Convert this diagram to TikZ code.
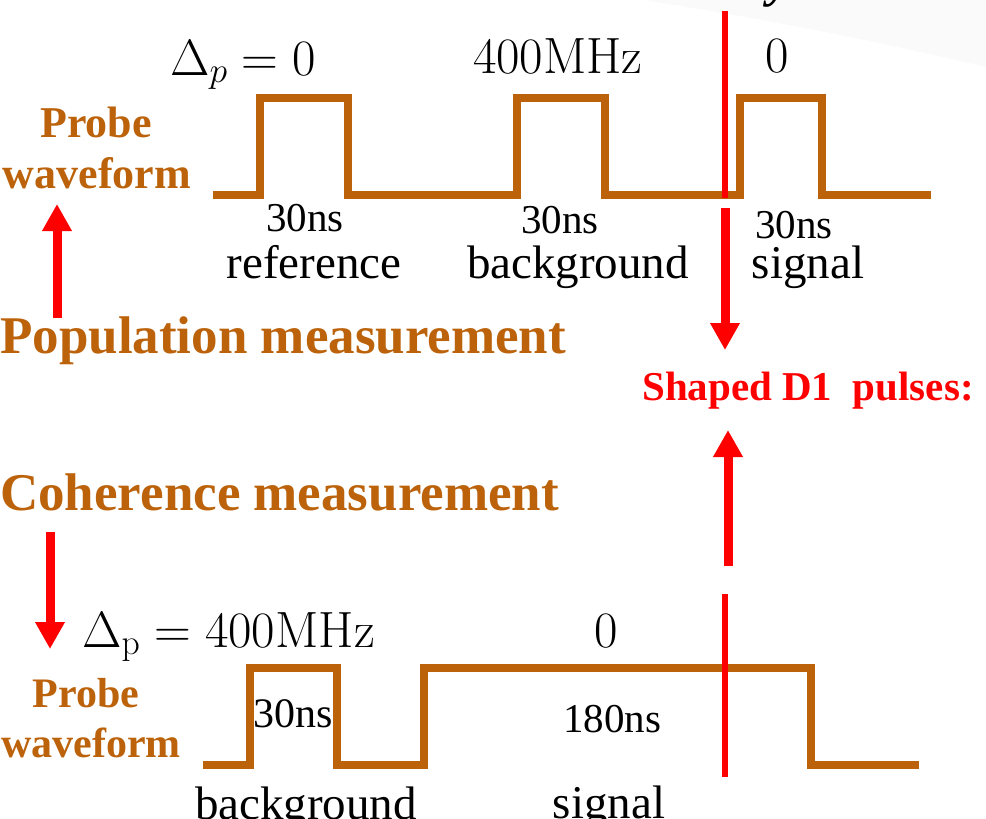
\RequirePackage{fix-cm}
\documentclass[tikz,border=0pt]{standalone}
\usepackage[no-math]{fontspec}
\setmainfont{Liberation Serif}
\usetikzlibrary{arrows.meta}
\definecolor{wave}{RGB}{187,98,10}
\definecolor{redc}{RGB}{255,0,0}
\definecolor{shadec}{RGB}{250,250,250}
\begin{document}
\begin{tikzpicture}[x=1pt,y=-1pt,
  wavepath/.style={draw=wave,line width=8.5pt,line join=miter,line cap=butt},
  redline/.style={draw=redc,line width=6pt},
  redarrow/.style={draw=redc,line width=9pt,-{Triangle[width=28pt,length=27pt]}},
  lbl/.style={inner sep=0pt,anchor=base,font=\fontsize{47}{50}\selectfont},
  dur/.style={inner sep=0pt,anchor=base,font=\fontsize{41}{44}\selectfont},
  detu/.style={inner sep=0pt,font=\fontsize{51}{53}\selectfont},
  orangetxt/.style={inner sep=0pt,anchor=base,text=wave,font=\bfseries\fontsize{44}{46}\selectfont},
  bigorange/.style={inner sep=0pt,anchor=base west,text=wave,font=\bfseries\fontsize{53}{56}\selectfont},
  redtxt/.style={inner sep=0pt,anchor=base west,text=redc,font=\bfseries\fontsize{41}{44}\selectfont}
]
\useasboundingbox (0,0) rectangle (986,819);
% faint background shade
\fill[shadec] (643,0) -- (986,0) -- (986,67) .. controls (850,35) and (740,15) .. (643,0) -- cycle;
% cut-off heading letter
\node[inner sep=0pt,anchor=base west,font=\bfseries\itshape\fontsize{50}{52}\selectfont] (cuty) at (768,-4) {y};

% ---- top (population) waveform ----
\draw[wavepath] (213,195) -- (260,195) -- (260,98) -- (348,98) -- (348,195)
  -- (517,195) -- (517,98) -- (605,98) -- (605,195)
  -- (740,195) -- (740,98) -- (822,98) -- (822,195) -- (931,195);
\coordinate (topLineTop) at (725,11);
\coordinate (topLineBot) at (725,198);
\draw[redline] (topLineTop) -- (topLineBot);

\node[detu,anchor=base west] (dp1) at (170,75) {$\Delta_p = 0$};
\node[detu,anchor=base] (f1) at (558,73) {$400\mathrm{MHz}$};
\node[detu,anchor=base] (f2) at (777,72) {$0$};

\node[dur] (d1) at (305,231) {30ns};
\node[dur] (d2) at (560,233) {30ns};
\node[dur] (d3) at (794,238) {30ns};
\node[lbl] (l1) at (314,278) {reference};
\node[lbl] (l2) at (578,278) {background};
\node[lbl] (l3) at (808,278) {signal};

\node[orangetxt] (pw1a) at (96,137) {Probe};
\node[orangetxt] (pw1b) at (97,188) {waveform};
\node[bigorange] (pop) at (0,353) {Population measurement};
\node[bigorange] (coh) at (0,510) {Coherence measurement};

\node[redtxt] (shaped) at (642,400) {Shaped D1\ \ pulses:};

% arrows
\coordinate (popA) at (57,318);
\coordinate (popB) at (57,204);
\draw[redarrow] (popA) -- (popB);
\coordinate (sigA) at (725,208);
\coordinate (sigB) at (725,350);
\draw[redarrow] (sigA) -- (sigB);
\coordinate (cohSigA) at (728,566);
\coordinate (cohSigB) at (728,430);
\draw[redarrow] (cohSigA) -- (cohSigB);
\coordinate (cohA) at (50,532);
\coordinate (cohB) at (50,649);
\draw[redarrow] (cohA) -- (cohB);

% ---- bottom (coherence) waveform ----
\draw[wavepath] (203,765) -- (250,765) -- (250,668) -- (337,668) -- (337,765)
  -- (424,765) -- (424,668) -- (811,668) -- (811,765) -- (919,765);
\coordinate (botLineTop) at (724.5,594);
\coordinate (botLineBot) at (724.5,777);
\draw[redline] (botLineTop) -- (botLineBot);

\node[detu,anchor=base west] (dp2) at (82,647) {$\Delta_{\mathrm{p}} = 400\mathrm{MHz}$};
\node[detu,anchor=base] (f3) at (606,647) {$0$};

\node[orangetxt,font=\bfseries\fontsize{42}{44}\selectfont] (pw2a) at (86,707) {Probe};
\node[orangetxt,font=\bfseries\fontsize{42}{44}\selectfont] (pw2b) at (91,757) {waveform};

\node[dur,font=\fontsize{42}{44}\selectfont] (d4) at (293,727) {30ns};
\node[dur] (d5) at (612,732) {180ns};
\node[lbl] (l4) at (306,819) {background};
\node[lbl] (l5) at (609,818) {signal};
\end{tikzpicture}
\end{document}
